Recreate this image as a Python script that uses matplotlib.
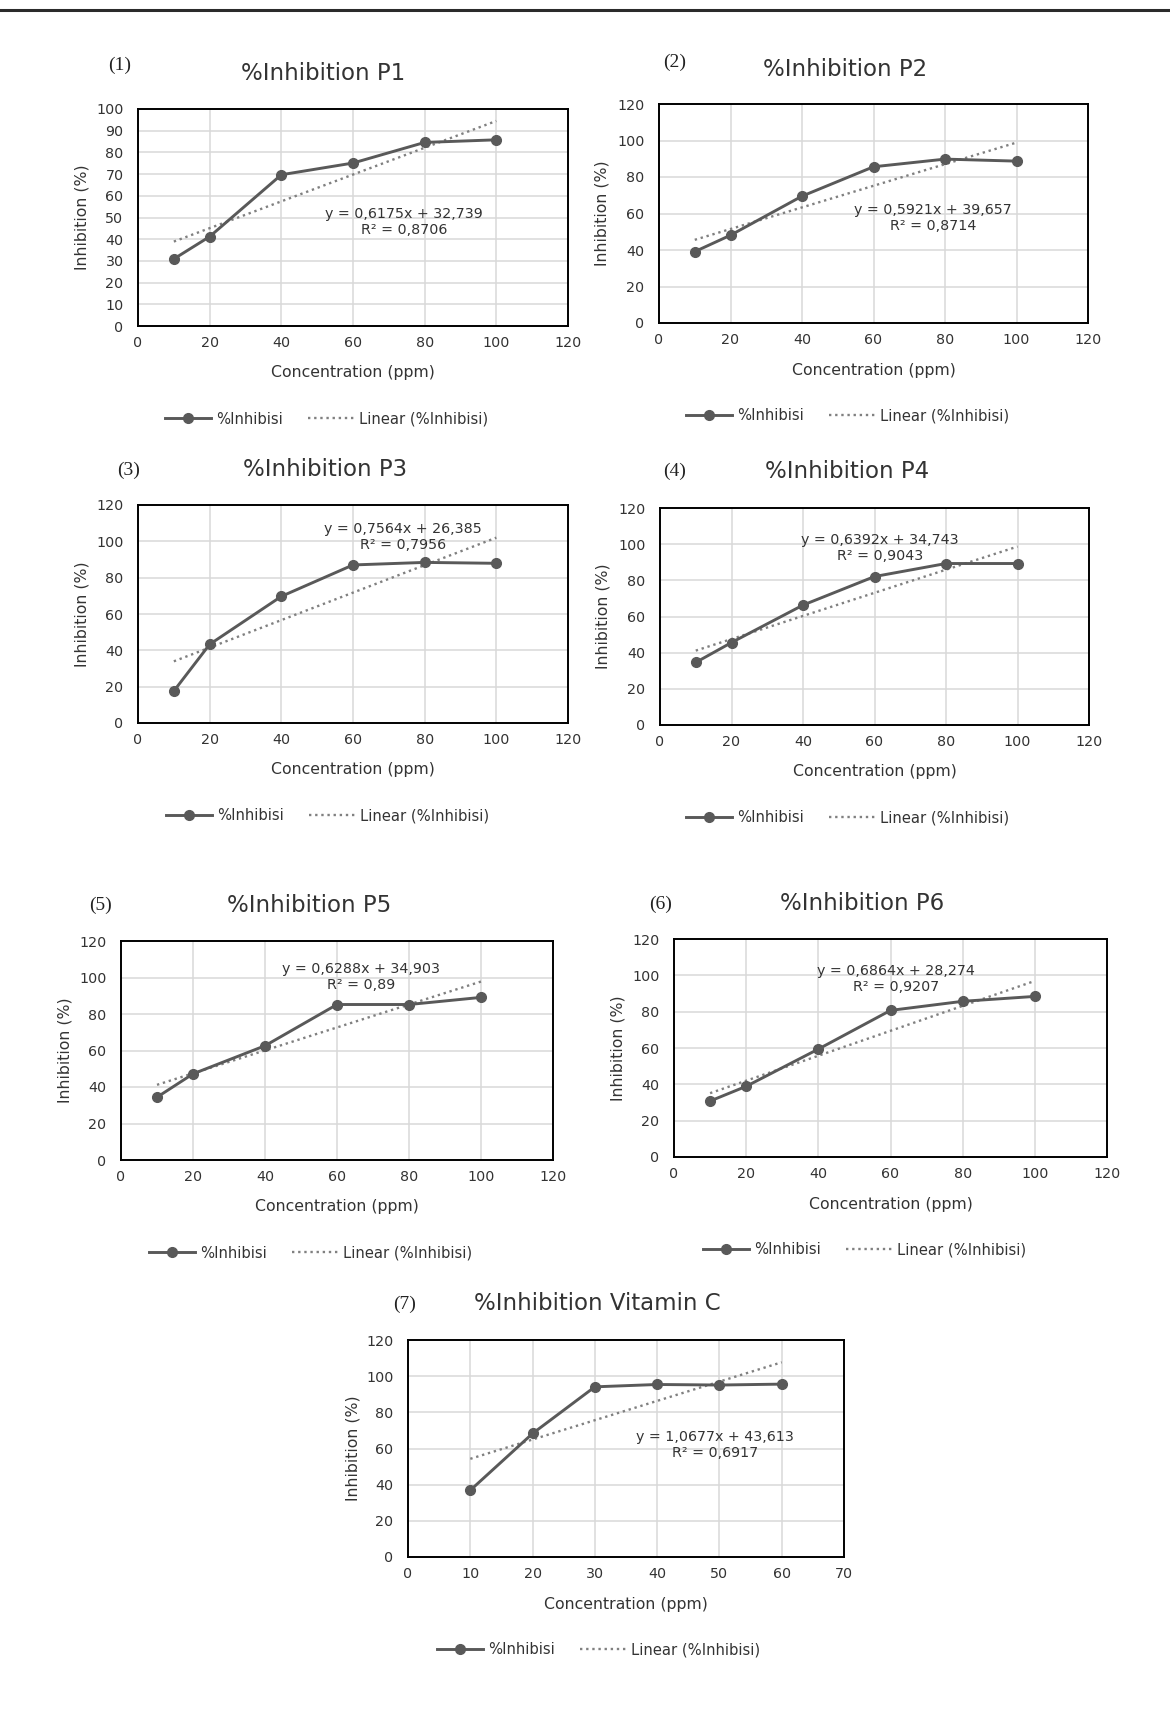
import matplotlib
matplotlib.use("Agg")
import matplotlib.pyplot as plt
from matplotlib.lines import Line2D
import numpy as np

# ---- data ----
conc_p = [10, 20, 40, 60, 80, 100]
conc_vitc = [10, 20, 30, 40, 50, 60]

inh_p1 = [30.9, 41.2, 69.7, 75.1, 84.6, 85.8]
inh_p2 = [39.1, 48.1, 69.5, 85.6, 89.8, 88.7]
inh_p3 = [17.6, 43.3, 69.7, 87.0, 88.4, 87.9]
inh_p4 = [34.6, 45.6, 66.3, 82.1, 89.3, 89.3]
inh_p5 = [34.4, 47.2, 62.6, 85.2, 85.2, 89.1]
inh_p6 = [30.8, 38.9, 59.4, 80.7, 85.7, 88.4]
inh_vitc = [36.9, 68.3, 94.1, 95.4, 95.1, 95.6]

titles = ["%Inhibition P1", "%Inhibition P2", "%Inhibition P3", "%Inhibition P4",
          "%Inhibition P5", "%Inhibition P6", "%Inhibition Vitamin C"]
panel_tags = ["(1)", "(2)", "(3)", "(4)", "(5)", "(6)", "(7)"]

slopes = [0.6175, 0.5921, 0.7564, 0.6392, 0.6288, 0.6864, 1.0677]
intercepts = [32.739, 39.657, 26.385, 34.743, 34.903, 28.274, 43.613]
r_squared = [0.8706, 0.8714, 0.7956, 0.9043, 0.89, 0.9207, 0.6917]

# ---- layout (pixels in a 1170x1718 canvas) ----
W, H = 1170, 1718
# axes box: left, top, right, bottom
boxes = [
    (138, 109, 568, 326),
    (659, 104, 1088, 323),
    (138, 505, 568, 723),
    (660, 508, 1089, 725),
    (121, 941, 553, 1160),
    (674, 939, 1107, 1157),
    (408, 1340, 844, 1557),
]
title_pos = [(323, 73), (845, 69), (325, 469), (847, 472), (309, 905), (862, 903), (597, 1304)]
tag_pos = [(120, 65), (675, 62), (129, 470), (675, 471), (100, 905), (661, 904), (405, 1304)]
ylab_x = [82, 602, 82, 603, 65, 618, 353]
eq_pos = [(404, 222), (933, 218), (403, 537), (880, 548), (361, 977), (896, 979), (715, 1445)]
legend_x = [327, 848, 328, 848, 311, 865, 599]

LINE = "#595959"
TREND = "#808080"
TXT = "#333333"


def fx(x):
    return x / W


def fy(y):
    return 1 - y / H


def comma(v):
    return f"{v:g}".replace(".", ",")


fig = plt.figure(figsize=(W / 100, H / 100), dpi=100)
fig.add_artist(Line2D([0, 1], [fy(10), fy(10)], color="#2b2b2b", lw=2.2))

series = [
    (conc_p, inh_p1), (conc_p, inh_p2), (conc_p, inh_p3), (conc_p, inh_p4),
    (conc_p, inh_p5), (conc_p, inh_p6), (conc_vitc, inh_vitc),
]

for i, (xs, ys) in enumerate(series):
    l, t, r, b = boxes[i]
    ax = fig.add_axes([fx(l), fy(b), (r - l) / W, (b - t) / H])
    xs = np.array(xs)
    trend = slopes[i] * xs + intercepts[i]

    ax.plot(xs, trend, color=TREND, lw=1.7, ls=(0, (1, 1.6)), label="Linear (%Inhibisi)", zorder=3)
    ax.plot(xs, ys, color=LINE, lw=2.1, marker="o", ms=7.0, label="%Inhibisi", zorder=4)

    if i == 6:
        ax.set_xlim(0, 70)
        ax.set_xticks(range(0, 71, 10))
    else:
        ax.set_xlim(0, 120)
        ax.set_xticks(range(0, 121, 20))
    if i == 0:
        ax.set_ylim(0, 100)
        ax.set_yticks(range(0, 101, 10))
    else:
        ax.set_ylim(0, 120)
        ax.set_yticks(range(0, 121, 20))

    ax.grid(True, color="#d9d9d9", lw=1.1)
    ax.set_axisbelow(True)
    for s in ax.spines.values():
        s.set_color("black")
        s.set_linewidth(1.4)
    ax.tick_params(axis="x", length=0, labelsize=10.3, colors=TXT, pad=7)
    ax.tick_params(axis="y", length=0, labelsize=10.3, colors=TXT, pad=10.4)

    fig.text(fx(title_pos[i][0]), fy(title_pos[i][1]), titles[i], fontsize=16.5,
             color=TXT, ha="center", va="center")
    fig.text(fx(tag_pos[i][0]), fy(tag_pos[i][1]), panel_tags[i], fontsize=14,
             family="Liberation Serif", color="#222222", ha="center", va="center")
    fig.text(fx(ylab_x[i]), fy((t + b) / 2), "Inhibition (%)", fontsize=11.3,
             color=TXT, rotation=90, ha="center", va="center")
    fig.text(fx((l + r) / 2), fy(b + 47), "Concentration (ppm)", fontsize=11.3,
             color=TXT, ha="center", va="center")
    eq = f"y = {comma(slopes[i])}x + {comma(intercepts[i])}\nR² = {comma(r_squared[i])}"
    fig.text(fx(eq_pos[i][0]), fy(eq_pos[i][1]), eq, fontsize=10.3, color=TXT,
             ha="center", va="center", linespacing=1.25, multialignment="center")

    handles, labels = ax.get_legend_handles_labels()
    ax.legend(handles[::-1], labels[::-1], loc="center", ncol=2, frameon=False,
              bbox_to_anchor=(fx(legend_x[i]), fy(b + 93)),
              bbox_transform=fig.transFigure, fontsize=10.6, handlelength=3.07,
              handletextpad=0.4, columnspacing=1.7, labelcolor=TXT)

fig.savefig("out.png", dpi=100)
